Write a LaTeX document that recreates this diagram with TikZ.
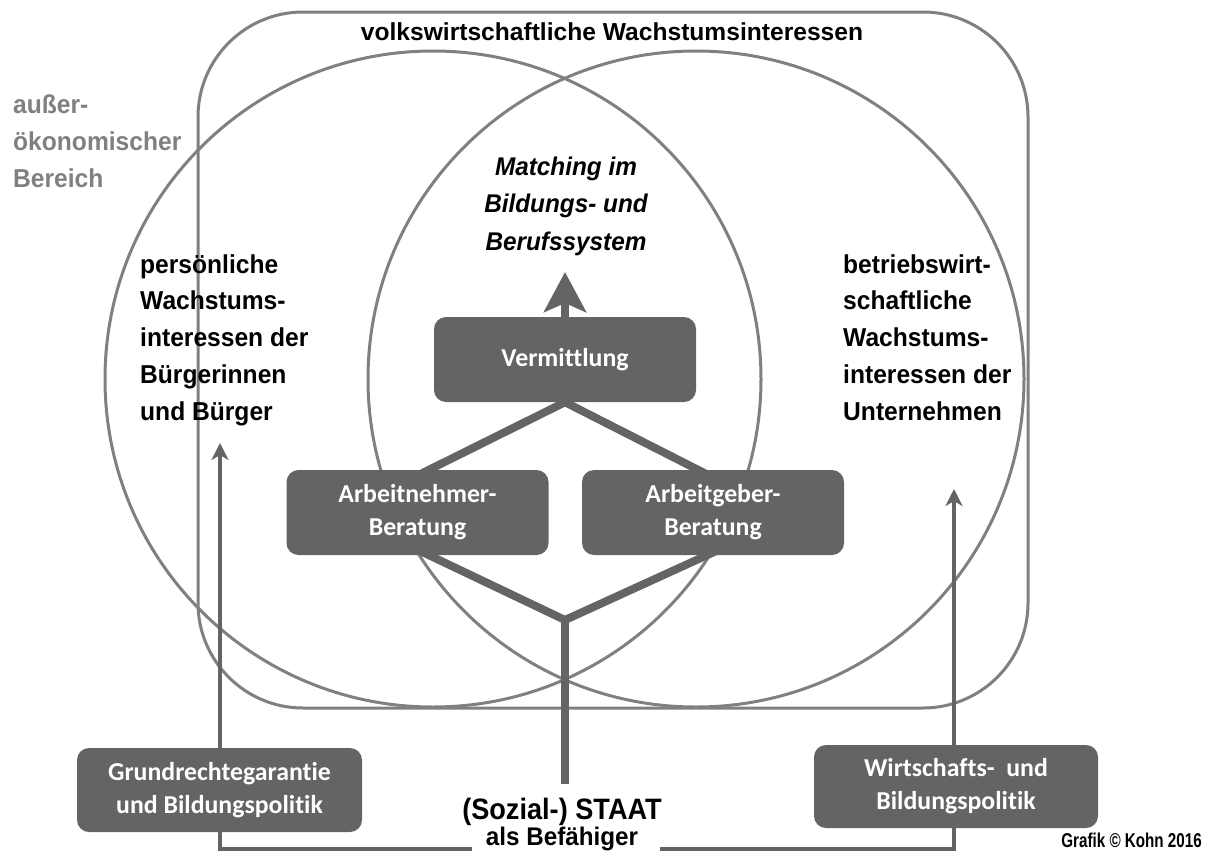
\documentclass[tikz,border=0pt]{standalone}
\usepackage{fontspec}
\setmainfont{Liberation Sans}
\newfontfamily\arialf{Liberation Sans}
\newfontfamily\arialc[FakeStretch=0.95]{Liberation Sans}
\newfontfamily\arialcc[FakeStretch=0.92]{Liberation Sans}
\newfontfamily\arialnarrow[FakeStretch=0.76]{Liberation Sans}
\newfontfamily\boxfont[Ligatures={NoCommon}]{Carlito}
\usetikzlibrary{arrows.meta,calc}
\definecolor{cgray}{RGB}{128,128,128}
\definecolor{boxgray}{RGB}{100,100,100}
\definecolor{textgray}{RGB}{128,128,128}
\pgfdeclarelayer{sets}
\pgfdeclarelayer{links}
\pgfsetlayers{sets,links,main}
\begin{document}
\begin{tikzpicture}[x=1pt,y=-1pt,
  circ/.style={draw=cgray, line width=3pt},
  darkbox/.style={fill=boxgray, rounded corners=12pt, text=white,
    font=\boxfont\bfseries\fontsize{25.8}{33}\selectfont, align=center,
    minimum width=262pt, minimum height=85pt, inner sep=0pt},
  branch/.style={draw=boxgray, line width=8pt},
  bigarrow/.style={draw=boxgray, line width=8pt, -{Stealth[length=40pt,width=42pt,inset=9pt]}},
  thinarrow/.style={draw=boxgray, line width=3.5pt, -{Stealth[length=17pt,width=17pt,inset=5pt]}},
  lbl/.style={font=\arialc\bfseries\fontsize{25.9}{36.7}\selectfont, align=left, inner sep=0pt},
]
\useasboundingbox (0,0) rectangle (1211,862);

% sets
\begin{pgfonlayer}{sets}
\draw[circ] (433,379) circle[radius=328pt];
\draw[circ] (696,379) circle[radius=328pt];
\draw[circ, rounded corners=105pt] (198,12) rectangle (1028,708);
\end{pgfonlayer}

% boxes
\node[darkbox] (verm) at (565,359.5) {Vermittlung};
\node[darkbox] (an) at (417.5,512.5) {Arbeitnehmer-\\Beratung};
\node[darkbox] (ag) at (713,512.5) {Arbeitgeber-\\Beratung};
\node[darkbox, minimum width=285pt, minimum height=84pt] (grund) at (219.5,790) {Grundrechtegarantie\\und Bildungspolitik};
\node[darkbox, minimum width=284pt, minimum height=83pt] (wirt) at (956,786.5) {Wirtschafts-\ \ und\\Bildungspolitik};

% coordinates
\coordinate (j) at (565,620);
\coordinate (sbot) at (565,784);
\coordinate (mtip) at (565,272);
\coordinate (ltip) at (220,443);
\coordinate (rtip) at (954,489);
\coordinate (sl) at (472,849);
\coordinate (sr) at (660,849);

% connectors behind boxes
\begin{pgfonlayer}{links}
\draw[thinarrow] (sl) -| (ltip);
\draw[thinarrow] (sr) -| (rtip);
\draw[branch] ($([xshift=11.5pt]an.north)!1.15!(verm.south)$) -- ($(verm.south)!1.2!([xshift=11.5pt]an.north)$);
\draw[branch] ($([xshift=-15pt]ag.north)!1.15!(verm.south)$) -- ($(verm.south)!1.2!([xshift=-15pt]ag.north)$);
\draw[branch, line join=miter] ($(j)!1.2!([xshift=11.5pt]an.south)$) -- (j) -- ($(j)!1.2!([xshift=-6pt]ag.south)$);
\draw[branch] (j) -- (sbot);
\draw[bigarrow] ($(mtip)!1.1!(verm.north)$) -- (mtip);
\end{pgfonlayer}

% texts (base anchor = baseline of the last line)
\node[font=\arialf\bfseries\fontsize{24.6}{28}\selectfont, anchor=base, inner sep=0pt] (title) at (612,40) {volkswirtschaftliche Wachstumsinteressen};
\node[lbl, text=textgray, anchor=base west] (auss) at (13,187) {außer-\\ökonomischer\\Bereich};
\node[lbl, anchor=base west] (pers) at (140,420) {persönliche\\Wachstums-\\interessen der\\Bürgerinnen\\und Bürger};
\node[lbl, anchor=base west] (betr) at (843,420) {betriebswirt-\\schaftliche\\Wachstums-\\interessen der\\Unternehmen};
\node[lbl, font=\arialc\bfseries\itshape\fontsize{25.6}{37.5}\selectfont, align=center, anchor=base] (match) at (566,250) {Matching im\\Bildungs- und\\Berufssystem};
\node[font=\arialcc\bfseries\fontsize{29.5}{30}\selectfont, anchor=base, inner sep=0pt] (staat) at (562,819) {(Sozial-) STAAT};
\node[font=\arialc\bfseries\fontsize{25.5}{28}\selectfont, anchor=base, inner sep=0pt] (bef) at (562,845) {als Befähiger};
\node[font=\arialnarrow\bfseries\fontsize{20}{24}\selectfont, anchor=base east, inner sep=0pt] (copy) at (1202,847) {Grafik © Kohn 2016};
\end{tikzpicture}
\end{document}
